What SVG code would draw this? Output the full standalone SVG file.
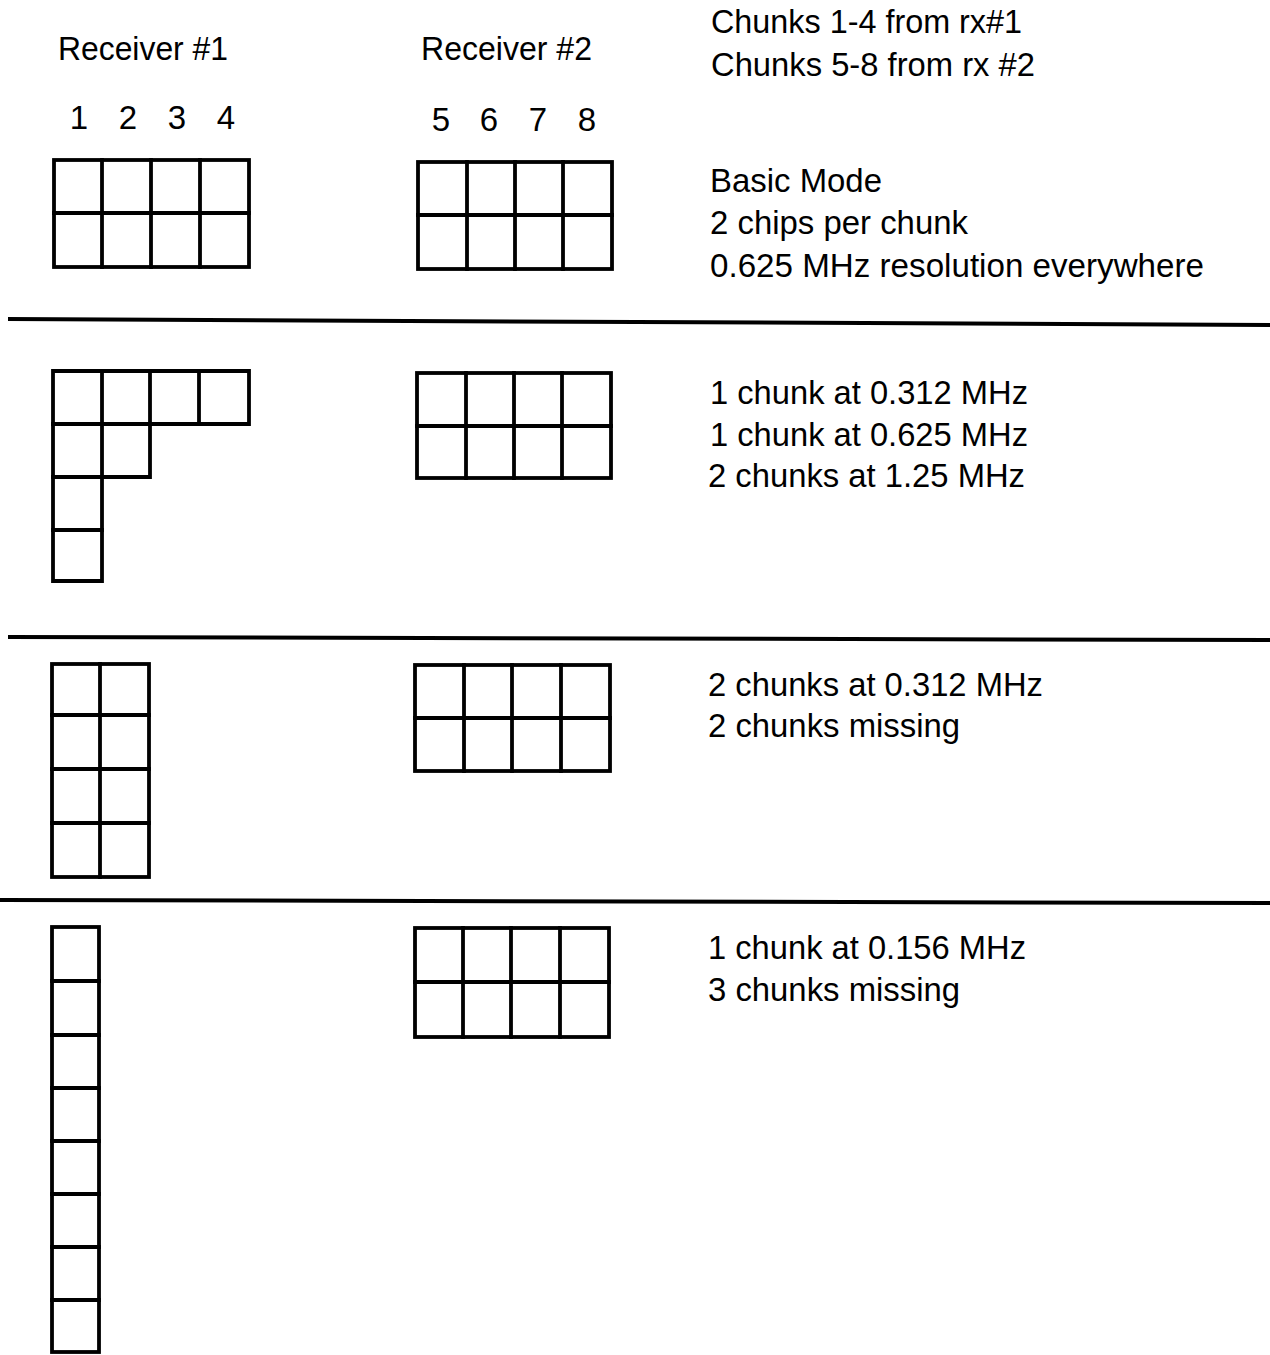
<svg xmlns="http://www.w3.org/2000/svg" width="1270" height="1355" viewBox="0 0 1270 1355">
<style>
.g{fill:none;stroke:#000;stroke-width:3.8;stroke-linejoin:miter;stroke-linecap:square}
.sep{stroke:#000;stroke-width:4}
text{font-family:"Liberation Sans",Arial,sans-serif;font-size:33px;fill:#000}
</style>
<rect width="1270" height="1355" fill="#fff"/>

<g id="header">
<text x="58" y="60" textLength="170" lengthAdjust="spacingAndGlyphs">Receiver #1</text>
<text x="421" y="60" textLength="171" lengthAdjust="spacingAndGlyphs">Receiver #2</text>
<g text-anchor="middle">
<text x="79" y="129">1</text><text x="128" y="129">2</text><text x="177" y="129">3</text><text x="226" y="129">4</text>
<text x="441" y="131">5</text><text x="489" y="131">6</text><text x="538" y="131">7</text><text x="587" y="131">8</text>
</g>
<text x="711" y="33" textLength="311" lengthAdjust="spacingAndGlyphs">Chunks 1-4 from rx#1</text>
<text x="711" y="76" textLength="324" lengthAdjust="spacingAndGlyphs">Chunks 5-8 from rx #2</text>
</g>

<g id="row1-rx1">
<rect class="g" x="54" y="160" width="195" height="107"/>
<path class="g" d="M102 160V267M151 160V267M200 160V267M54 213H249"/>
</g>
<g id="row1-rx2">
<rect class="g" x="418" y="162" width="194" height="107"/>
<path class="g" d="M467 162V269M515 162V269M563 162V269M418 215H612"/>
</g>
<g id="row1-text">
<text x="710" y="192" textLength="172" lengthAdjust="spacingAndGlyphs">Basic Mode</text>
<text x="710" y="234" textLength="258" lengthAdjust="spacingAndGlyphs">2 chips per chunk</text>
<text x="710" y="277" textLength="494" lengthAdjust="spacingAndGlyphs">0.625 MHz resolution everywhere</text>
</g>

<g id="row2-rx1">
<path class="g" d="M53 371H249V424H150V477H102V581H53Z"/>
<path class="g" d="M102 371V477M150 371V424M199 371V424M53 424H150M53 477H102M53 530H102"/>
</g>
<g id="row2-rx2">
<rect class="g" x="417" y="373" width="194" height="105"/>
<path class="g" d="M466 373V478M514 373V478M562 373V478M417 426H611"/>
</g>
<g id="row2-text">
<text x="710" y="404" textLength="318" lengthAdjust="spacingAndGlyphs">1 chunk at 0.312 MHz</text>
<text x="710" y="446" textLength="318" lengthAdjust="spacingAndGlyphs">1 chunk at 0.625 MHz</text>
<text x="708" y="487" textLength="317" lengthAdjust="spacingAndGlyphs">2 chunks at 1.25 MHz</text>
</g>

<g id="row3-rx1">
<rect class="g" x="52" y="664" width="97" height="213"/>
<path class="g" d="M100 664V877M52 715H149M52 769H149M52 823H149"/>
</g>
<g id="row3-rx2">
<rect class="g" x="415" y="665" width="195" height="106"/>
<path class="g" d="M464 665V771M512 665V771M561 665V771M415 718H610"/>
</g>
<g id="row3-text">
<text x="708" y="696" textLength="335" lengthAdjust="spacingAndGlyphs">2 chunks at 0.312 MHz</text>
<text x="708" y="737" textLength="252" lengthAdjust="spacingAndGlyphs">2 chunks missing</text>
</g>

<g id="row4-rx1">
<rect class="g" x="52" y="927" width="47" height="425"/>
<path class="g" d="M52 981H99M52 1035H99M52 1088H99M52 1141H99M52 1194H99M52 1247H99M52 1300H99"/>
</g>
<g id="row4-rx2">
<rect class="g" x="415" y="928" width="194" height="109"/>
<path class="g" d="M463 928V1037M511 928V1037M560 928V1037M415 982H609"/>
</g>
<g id="row4-text">
<text x="708" y="959" textLength="318" lengthAdjust="spacingAndGlyphs">1 chunk at 0.156 MHz</text>
<text x="708" y="1001" textLength="252" lengthAdjust="spacingAndGlyphs">3 chunks missing</text>
</g>

<g id="connectors">
<line class="sep" x1="8" y1="319" x2="1270" y2="325"/>
<line class="sep" x1="8" y1="637" x2="1270" y2="640"/>
<line class="sep" x1="0" y1="900" x2="1270" y2="903"/>
</g>
</svg>
